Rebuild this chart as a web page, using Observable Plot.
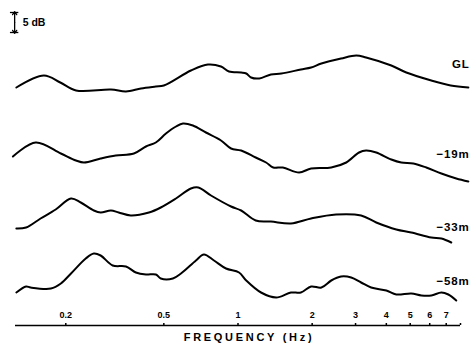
<!DOCTYPE html>
<html><head><meta charset="utf-8">
<script src="https://cdn.jsdelivr.net/npm/d3@7"></script>
<script src="https://cdn.jsdelivr.net/npm/@observablehq/plot@0.6"></script>
<style>
html,body{margin:0;padding:0;background:#fff;}
#chart svg{display:block;}
</style>
</head><body><div id="chart"></div>
<script>
// Relative spectral level (dB) vs frequency (Hz) at four depths
const seriesNames = ["GL", "−19m", "−33m", "−58m"];
const seriesOffsets = [-22.5, -41.25, -56.25, -72.5]; // dB offsets used for stacking
const labelDb = [6.5, 2.75, -0.5, 2.25];

const freqGL = [0.126,0.163,0.19,0.22,0.305,0.351,0.404,0.464,0.50,0.644,0.755,0.853,0.919,1.03,1.08,1.13,1.22,1.36,1.50,1.80,1.98,2.18,2.62,3.02,3.31,4.19,4.82,6.09,7.3,8.61];
const dbGL   = [0.75,3.75,2,0,0.25,-0.25,0.5,1,1.25,5,6.5,6,4.75,4.5,4.25,3.25,3,4,4.25,5.25,5.75,6.75,8,8.75,8.25,6.25,4.5,2.5,1.25,0.75];

const freq19 = [0.122,0.151,0.191,0.22,0.237,0.277,0.319,0.378,0.423,0.464,0.51,0.56,0.598,0.656,0.741,0.853,0.937,1.03,1.18,1.30,1.39,1.52,1.77,1.98,2.39,2.75,3.10,3.31,3.64,4.19,4.60,5.15,5.81,6.69,7.69,8.61];
const db19   = [2.25,5.75,3,1.25,0.75,1.75,2.5,3,4.75,5.75,8,9.75,10.5,10,8.25,6.25,4.25,3.75,2,0.75,-0.5,-0.5,-1.75,-0.75,-0.5,0.75,3.25,3.75,3.25,1.5,0.75,0.5,-0.5,-2,-3.25,-4];

const freq33 = [0.126,0.138,0.158,0.182,0.21,0.23,0.26,0.277,0.305,0.328,0.367,0.435,0.486,0.56,0.644,0.69,0.777,0.937,1.03,1.18,1.36,1.64,1.98,2.50,3.16,3.64,4.39,5.05,6.09,6.69,7.34];
const db33   = [-0.75,-0.5,1.75,4,6.75,5.75,3.75,3.25,3.75,3.25,2.5,3.25,4.5,6.75,9.25,9.5,7.5,4.75,3.75,1.25,1,0.5,1.75,2.75,2.5,0.75,-1,-1.75,-3,-3.25,-4.25];

const freq58 = [0.126,0.138,0.144,0.174,0.191,0.21,0.241,0.26,0.277,0.31,0.351,0.385,0.423,0.464,0.486,0.544,0.587,0.675,0.727,0.799,0.894,1.01,1.08,1.24,1.43,1.64,1.80,1.98,2.18,2.39,2.62,2.88,3.16,3.47,4.00,4.39,5.05,5.55,6.09,6.69,7.14,7.69];
const db58   = [-0.5,1,0.75,0.5,1.75,4.25,8,9.25,8.75,6.25,6,4.5,4,4,3,3,4.25,7.5,9,7.5,5.5,4.5,2.5,-0.5,-1.75,-0.5,-0.5,1,0.75,2.5,3.5,3.25,2,0.75,0,-1,-0.75,-1.25,-1.25,-0.5,-1,-2.5];

const tickValues = [0.2, 0.5, 1, 2, 3, 4, 5, 6, 7];
const tickLabels = ["0.2", "0.5", "1", "2", "3", "4", "5", "6", "7"];
const xDomain = [0.125, 8];
const scaleBarDb = 5;
const xTitle = "FREQUENCY (Hz)";

const freqs = [freqGL, freq19, freq33, freq58];
const dbs = [dbGL, db19, db33, db58];
const rows = [];
freqs.forEach((fs, i) => fs.forEach((f, j) => rows.push({series: seriesNames[i], f, v: dbs[i][j] + seriesOffsets[i]})));
const labels = seriesNames.map((s, i) => ({s, v: labelDb[i] + seriesOffsets[i]}));

const axisV = -81.25;
const font = "'Liberation Sans', Arial, sans-serif";
const barF = 0.124, barTop = -3, barBot = barTop - scaleBarDb;

const chart = Plot.plot({
  width: 474, height: 345,
  marginLeft: 15, marginRight: 14, marginTop: 0, marginBottom: 0,
  style: {fontFamily: font, background: "#fff"},
  x: {type: "log", domain: xDomain, axis: null},
  y: {domain: [-86.25, 0], axis: null},
  marks: [
    Plot.line(rows, {x: "f", y: "v", z: "series", stroke: "#000", strokeWidth: 2, curve: "catmull-rom"}),
    Plot.text(labels, {x: 8.62, y: "v", text: "s", textAnchor: "end", fontWeight: "bold", fontSize: 11.5, fill: "#000", dx: 1}),
    // axis
    Plot.ruleY([axisV], {x1: xDomain[0], x2: xDomain[1], stroke: "#000", strokeWidth: 1.5}),
    Plot.ruleX(tickValues.concat([xDomain[1]]), {y1: axisV, y2: axisV + 0.5, stroke: "#000", strokeWidth: 1.5}),
    Plot.text(tickValues, {x: d => d, y: axisV + 2.5, text: (d, i) => tickLabels[i], fontWeight: "bold", fontSize: 9, fill: "#000"}),
    Plot.text([xTitle], {x: 1, y: axisV - 3.1, text: d => d, fontWeight: "bold", fontSize: 11, fill: "#000", dx: 11}),
    // scale bar
    Plot.arrow([{y1: (barTop + barBot) / 2, y2: barTop + 0.2}, {y1: (barTop + barBot) / 2, y2: barBot - 0.2}], {x1: barF, x2: barF, y1: "y1", y2: "y2", stroke: "#000", strokeWidth: 1.3, headLength: 4.5, headAngle: 70, bend: 0}),
    Plot.ruleY([barTop, barBot], {x1: barF / 1.04, x2: barF * 1.04, stroke: "#000", strokeWidth: 1.3}),
    Plot.text([scaleBarDb + " dB"], {x: barF, y: (barTop + barBot) / 2, text: d => d, dx: 8, textAnchor: "start", fontWeight: "bold", fontSize: 10.5, fill: "#000"})
  ]
});
d3.select(chart).selectAll("text").each(function () {
  const t = this.textContent;
  if (t === xTitle) this.setAttribute("letter-spacing", "2.7px");
  else if (seriesNames.includes(t)) this.setAttribute("letter-spacing", "0.8px");
});
document.getElementById("chart").appendChild(chart);
</script>
</body></html>
